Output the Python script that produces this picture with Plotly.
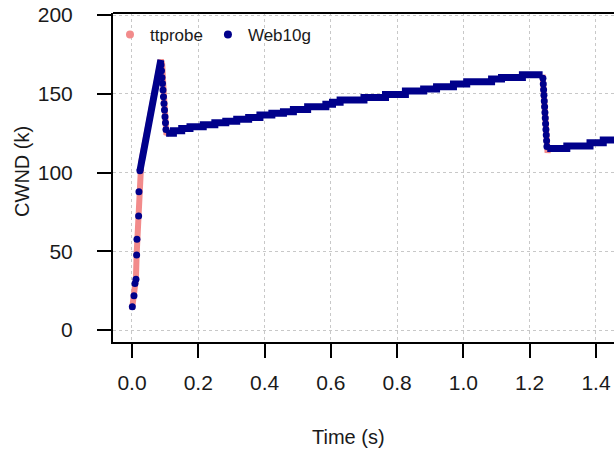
import plotly.graph_objects as go

# ---------------- data ----------------
# ttprobe (pink) – visible parts
tt_time = [0.000, 0.006, 0.009, 0.012, 0.014, 0.016, 0.019, 0.021, 0.024, 0.028,
           0.087, 0.091, 0.096, 0.101, 0.104, 0.106, None,
           1.239, 1.243, 1.248, 1.254, 1.256, None]
tt_cwnd = [13.0, 22.0, 30.0, 33.0, 48.0, 58.0, 72.0, 88.0, 101.0, 107.0,
           171.5, 169.0, 150.0, 130.0, 124.0, 124.5, None,
           162.1, 150.0, 130.0, 112.5, 115.3, None]

# Web10g individual samples (slow start and the two drops)
w_dot_time = [0.001, 0.006, 0.009, 0.012, 0.014, 0.015, 0.020, 0.021, 0.024,
              0.0875, 0.089, 0.0905, 0.092, 0.0935, 0.095, 0.0965, 0.098, 0.0995, 0.101, 0.1025,
              1.240, 1.241, 1.242, 1.243, 1.244, 1.245, 1.246, 1.247, 1.248, 1.249, 1.250, 1.251, 1.252]
w_dot_cwnd = [14.8, 21.8, 29.6, 32.2, 47.6, 57.6, 72.4, 87.8, 101.1,
              168.3, 164.6, 160.4, 156.6, 152.4, 148.1, 143.9, 139.7, 135.4, 131.6, 127.4,
              159.8, 156.2, 152.6, 149.0, 145.4, 141.8, 138.2, 134.6, 131.0, 127.4, 123.8, 120.2, 116.6]

# Web10g ramp (dense samples forming a straight line)
w_ramp_time = [0.024, 0.087]
w_ramp_cwnd = [101.0, 171.5]

# Web10g congestion-avoidance staircase (step start time, value)
w_step_time = [0.103, 0.125, 0.150, 0.175, 0.215, 0.250, 0.283, 0.316, 0.352, 0.386,
               0.422, 0.457, 0.487, 0.530, 0.585, 0.605, 0.628, 0.700, 0.765, 0.825,
               0.880, 0.919, 0.970, 1.010, 1.085, 1.115, 1.178, 1.239, None,
               1.253, 1.312, 1.382, 1.422, 1.470]
w_step_cwnd = [124.9, 126.6, 128.0, 129.1, 130.4, 131.6, 132.5, 133.8, 135.0, 136.5,
               137.6, 138.6, 140.1, 141.8, 143.3, 144.6, 146.0, 147.7, 149.6, 151.7,
               153.0, 154.5, 156.2, 157.7, 159.4, 160.4, 162.1, 162.1, None,
               115.3, 116.8, 118.9, 120.6, 120.6]

x_ticks = [0.0, 0.2, 0.4, 0.6, 0.8, 1.0, 1.2, 1.4]
x_tick_labels = ["0.0", "0.2", "0.4", "0.6", "0.8", "1.0", "1.2", "1.4"]
y_ticks = [0, 50, 100, 150, 200]
y_tick_labels = ["0", "50", "100", "150", "200"]

PINK = "#F28B8B"
NAVY = "#00008B"
FONT = "Liberation Sans, Arial, sans-serif"

fig = go.Figure()

# ttprobe line
fig.add_trace(go.Scatter(x=tt_time, y=tt_cwnd, mode="lines",
                         line=dict(color=PINK, width=6), showlegend=False,
                         connectgaps=False, hoverinfo="skip"))
# Web10g ramp and steps
fig.add_trace(go.Scatter(x=w_ramp_time, y=w_ramp_cwnd, mode="lines",
                         line=dict(color=NAVY, width=7), showlegend=False))
fig.add_trace(go.Scatter(x=w_step_time, y=w_step_cwnd, mode="lines",
                         line=dict(color=NAVY, width=7, shape="hv"),
                         showlegend=False, connectgaps=False))
# Web10g dots
fig.add_trace(go.Scatter(x=w_dot_time, y=w_dot_cwnd, mode="markers",
                         marker=dict(color=NAVY, size=7), showlegend=False))

# legend entries
fig.add_trace(go.Scatter(x=[None], y=[None], mode="markers", name="ttprobe",
                         marker=dict(color=PINK, size=8)))
fig.add_trace(go.Scatter(x=[None], y=[None], mode="markers", name="Web10g",
                         marker=dict(color=NAVY, size=8)))

fig.update_layout(
    width=614, height=449,
    margin=dict(l=113, r=0, t=13, b=107, autoexpand=False),
    paper_bgcolor="white", plot_bgcolor="white",
    font=dict(family=FONT, color="#1a1a1a", size=20),
    showlegend=True,
    legend=dict(orientation="h", x=-0.006, y=0.988, xanchor="left", yanchor="top",
                font=dict(size=17, color="#1a1a1a"), bgcolor="rgba(0,0,0,0)",
                itemwidth=30, tracegroupgap=0),
    xaxis=dict(range=[-0.0573, 1.4544], tickvals=x_ticks, ticktext=x_tick_labels,
               showgrid=True, gridcolor="#C8C8C8", griddash="dot", gridwidth=1,
               zeroline=False, showline=True, linecolor="black", linewidth=2,
               mirror=False, ticks="outside", ticklen=14, tickwidth=2,
               tickcolor="black", ticklabelstandoff=7, automargin=False,
               ticklabeloverflow="allow", tickfont=dict(size=21)),
    yaxis=dict(range=[-7.6, 201.3], tickvals=y_ticks, ticktext=y_tick_labels,
               showgrid=True, gridcolor="#C8C8C8", griddash="dot", gridwidth=1,
               zeroline=False, showline=True, linecolor="black", linewidth=2,
               ticks="outside", ticklen=14, tickwidth=2, tickcolor="black",
               ticklabelstandoff=20, automargin=False, ticklabeloverflow="allow",
               tickfont=dict(size=21)),
    shapes=[dict(type="line", xref="paper", yref="paper", x0=0, x1=1, y0=1, y1=1,
                 line=dict(color="black", width=2), layer="above")],
    annotations=[
        dict(text="CWND (k)", xref="paper", yref="paper", x=-0.1816, y=0.517,
             textangle=-90, showarrow=False, font=dict(size=20),
             xanchor="center", yanchor="middle"),
        dict(text="Time (s)", xref="paper", yref="paper", x=0.471, y=-0.289,
             showarrow=False, font=dict(size=20), xanchor="center", yanchor="middle"),
    ],
)

# place the figure at the page's top-left corner (no default body margin)
fig.write_html("out.html",
               config={"displayModeBar": False},
               post_script="document.body.style.margin='0px';"
                           "document.body.style.overflow='hidden';")
